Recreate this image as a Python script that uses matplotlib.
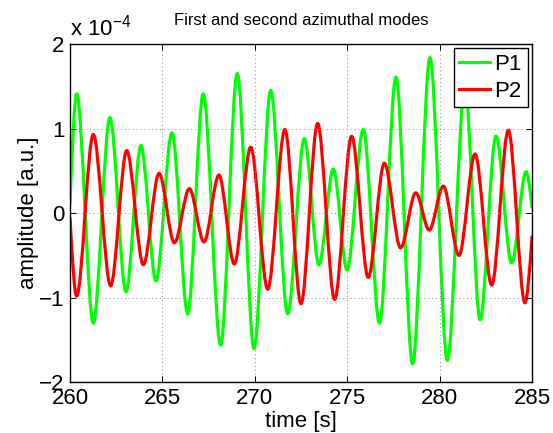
import matplotlib
matplotlib.use("Agg")
import matplotlib.pyplot as plt
from matplotlib.path import Path
from matplotlib.patches import PathPatch
from matplotlib.lines import Line2D

plt.rcParams["font.family"] = ["Liberation Sans", "DejaVu Sans"]
plt.rcParams["mathtext.fontset"] = "custom"
plt.rcParams["mathtext.rm"] = "Liberation Sans"
plt.rcParams["mathtext.default"] = "regular"

# extrema (and end points), amplitude in units of 1e-4
P1_TIME = [260.00, 260.36, 261.26, 262.16, 263.03, 263.84, 264.65, 265.52, 266.37, 267.21,
           268.15, 269.05, 269.96, 270.86, 271.78, 272.68, 273.47, 274.25, 274.99, 275.87,
           276.75, 277.64, 278.54, 279.48, 280.42, 281.37, 282.19, 283.05, 283.90, 284.68, 285.00]
P1_AMP = [0.11, 1.41, -1.30, 1.13, -0.93, 0.80, -0.80, 0.95, -1.19, 1.41,
          -1.56, 1.65, -1.60, 1.45, -1.19, 0.88, -0.61, 0.52, -0.67, 0.99,
          -1.30, 1.61, -1.78, 1.84, -1.74, 1.50, -1.26, 0.91, -0.59, 0.49, 0.07]

P2_TIME = [260.00, 260.36, 261.26, 262.20, 263.07, 263.97, 264.82, 265.65, 266.46, 267.25,
           268.06, 268.89, 269.78, 270.70, 271.63, 272.50, 273.40, 274.32, 275.24, 276.14,
           277.01, 277.89, 278.71, 279.44, 280.20, 281.05, 281.92, 282.82, 283.72, 284.62, 285.00]
P2_AMP = [-0.06, -0.98, 0.93, -0.86, 0.74, -0.61, 0.47, -0.35, 0.29, -0.34,
          0.45, -0.60, 0.78, -0.90, 0.99, -1.07, 1.06, -1.02, 0.91, -0.76,
          0.59, -0.41, 0.24, -0.20, 0.32, -0.50, 0.70, -0.85, 0.98, -1.06, -0.28]

X_TICKS = [260, 265, 270, 275, 280, 285]
Y_TICKS = [-2, -1, 0, 1, 2]
Y_TICK_LABELS = ["\u22122", "\u22121", "0", "1", "2"]


def smooth_path(t, a):
    # cubic bezier between extrema, flat tangents at peaks/troughs
    verts = [(t[0], a[0])]
    codes = [Path.MOVETO]
    n = len(t)
    for i in range(n - 1):
        t0, y0, t1, y1 = t[i], a[i], t[i + 1], a[i + 1]
        h = (t1 - t0) / 3.0
        c0 = y0 + 0.5 * (y1 - y0) if i == 0 else y0
        c1 = y1 - 0.5 * (y1 - y0) if i + 1 == n - 1 else y1
        verts += [(t0 + h, c0), (t1 - h, c1), (t1, y1)]
        codes += [Path.CURVE4] * 3
    return Path(verts, codes)


fig = plt.figure(figsize=(5.53, 4.33), dpi=100)
ax = fig.add_axes([70 / 553, 1 - 382.3 / 433, 462 / 553, 338.3 / 433])

for t, a, col in [(P1_TIME, P1_AMP, (0, 1, 0)), (P2_TIME, P2_AMP, (1, 0, 0))]:
    ax.add_patch(PathPatch(smooth_path(t, a), facecolor="none", edgecolor=col,
                           lw=2.3, capstyle="round", joinstyle="round"))

ax.set_xlim(260, 285)
ax.set_ylim(-2, 2)
ax.set_xticks(X_TICKS)
ax.set_yticks(Y_TICKS)
ax.set_yticklabels(Y_TICK_LABELS)
ax.grid(True, linestyle=(0, (1, 3)), color="0.55", lw=0.7)
ax.tick_params(direction="in", top=True, right=True, labelsize=16, length=4, width=0.7, pad=4)
for s in ax.spines.values():
    s.set_linewidth(1.0)

ax.set_xlabel("time [s]", fontsize=16, labelpad=1.5)
ax.set_ylabel("amplitude [a.u.]", fontsize=16, labelpad=0)
ax.set_title("First and second azimuthal modes", fontsize=12, pad=14)
ax.text(0.0, 1.01, "x 10$^{\u22124}$", transform=ax.transAxes,
        fontsize=16, ha="left", va="bottom")

handles = [Line2D([], [], color=(0, 1, 0), lw=2.3), Line2D([], [], color=(1, 0, 0), lw=2.3)]
leg = ax.legend(handles, ["P1", "P2"], loc="upper right", fontsize=16, fancybox=False,
                framealpha=1, edgecolor="black", handlelength=1.4, handletextpad=0.2,
                borderpad=0.25, labelspacing=0.25, borderaxespad=0.2)
leg.get_frame().set_linewidth(1.0)

fig.savefig("out.png", dpi=100)
